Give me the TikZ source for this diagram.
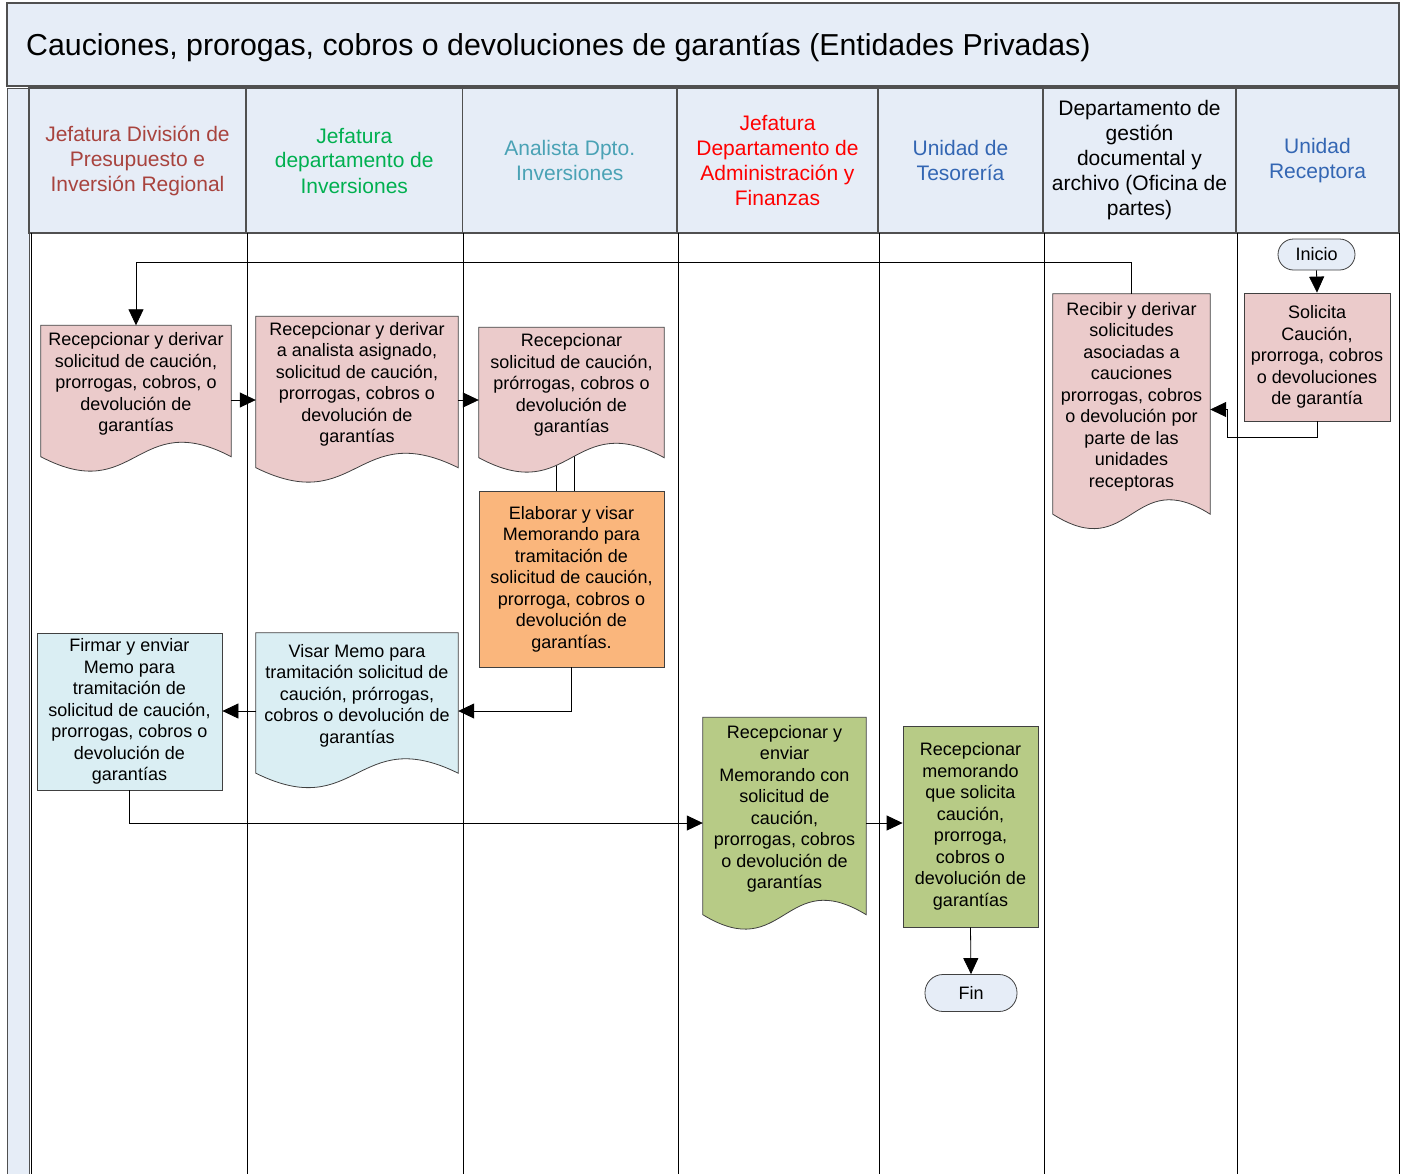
\documentclass[tikz,border=0pt]{standalone}
\usepackage{fontspec}
\setmainfont{Liberation Sans}
\usetikzlibrary{arrows.meta,calc,backgrounds}

\definecolor{hdrfill}{HTML}{E6EDF7}
\definecolor{hdrline}{HTML}{505050}
\definecolor{shapeline}{HTML}{404040}
\definecolor{pinkfill}{HTML}{EBCBCB}
\definecolor{orangefill}{HTML}{FAB67C}
\definecolor{cyanfill}{HTML}{DAEEF3}
\definecolor{greenfill}{HTML}{B7CB86}
\definecolor{laneA}{HTML}{A8433E}
\definecolor{laneB}{HTML}{00B050}
\definecolor{laneC}{HTML}{4AA2B5}
\definecolor{laneD}{HTML}{FF0000}
\definecolor{laneE}{HTML}{3366B3}

% document shape drawn around a text node: #1 node, #2 drop of the side edges, #3 fill
\newcommand{\docshape}[3]{%
  \path[draw=shapeline,line width=0.8pt,fill=#3]
    (#1.north west) -- (#1.north east) -- ($(#1.south east)+(0,#2)$)
    .. controls ($(#1.south)+(0,#2-50)$) and ($(#1.south)+(0,#2+50)$) ..
    ($(#1.south west)+(0,#2)$) -- cycle;}

\begin{document}
\begin{tikzpicture}[x=1pt,y=-1pt,
  lane/.style={draw=black,line width=0.7pt},
  hdr/.style={draw=hdrline,line width=1.4pt,fill=hdrfill,align=center,
    font=\fontsize{21}{25}\selectfont,inner sep=0pt,minimum height=145pt},
  txt/.style={align=center,font=\fontsize{18}{21.5}\selectfont,inner sep=0pt},
  boxed/.style={txt,draw=shapeline,line width=0.8pt},
  term/.style={txt,draw=shapeline,line width=0.8pt,fill=hdrfill},
  arr/.style={draw=black,line width=0.8pt,-{Triangle[length=16pt,width=15pt]}},
  link/.style={draw=black,line width=0.8pt}]
\useasboundingbox (0,0) rectangle (1405,1173);

% title band
\node[draw=hdrline,line width=1.2pt,fill=hdrfill,minimum width=1392pt,
  minimum height=83pt,inner sep=0pt] (tbox) at (703,44.5) {};
\node[anchor=west,inner sep=0pt,font=\fontsize{30.3}{36}\selectfont] (title) at (26,47.5)
  {Cauciones, prorogas, cobros o devoluciones de garantías (Entidades Privadas)};

% pool label strip
\node[draw=hdrline,line width=1.2pt,fill=hdrfill,minimum width=22pt,
  minimum height=1100pt,inner sep=0pt,anchor=north west] (strip) at (7,88) {};

% lane headers
\node[hdr,text=laneA,minimum width=217pt] (h1) at (137.5,160.5)
  {Jefatura División de\\Presupuesto e\\Inversión Regional};
\node[hdr,text=laneB,minimum width=216.5pt] (h2) at (354.25,160.5)
  {Jefatura\\departamento de\\Inversiones};
\node[hdr,text=laneC,minimum width=214.5pt] (h3) at (569.75,160.5)
  {Analista Dpto.\\Inversiones};
\node[hdr,text=laneD,minimum width=201pt] (h4) at (777.5,160.5)
  {Jefatura\\Departamento de\\Administración y\\Finanzas};
\node[hdr,text=laneE,minimum width=165pt] (h5) at (960.5,160.5)
  {Unidad de\\Tesorería};
\node[hdr,text=black,minimum width=193pt] (h6) at (1139.5,160.5)
  {Departamento de\\gestión\\documental y\\archivo (Oficina de\\partes)};
\node[hdr,text=laneE,minimum width=163pt] (h7) at (1317.5,160.5)
  {Unidad\\Receptora};

% lane separators
\foreach \lx in {31,247,463.5,678.5,879,1044,1237,1399}
  \draw[lane] (\lx,233) -- (\lx,1180);

% process steps
\node[term,minimum width=77pt,minimum height=31pt,rounded corners=15.5pt] (ini) at (1316.5,254.5) {Inicio};
\node[boxed,fill=pinkfill,minimum width=146pt,minimum height=128pt] (sol) at (1317,357)
  {Solicita\\Caución,\\prorroga, cobros\\o devoluciones\\de garantía};
\node[txt,minimum width=157pt,minimum height=205pt] (rec) at (1131.5,396.5)
  {Recibir y derivar\\solicitudes\\asociadas a\\cauciones\\prorrogas, cobros\\o devolución por\\parte de las\\unidades\\receptoras};
\node[txt,minimum width=190pt,minimum height=117pt] (d1) at (136,384)
  {Recepcionar y derivar\\solicitud de caución,\\prorrogas, cobros, o\\devolución de\\garantías};
\node[txt,minimum width=202pt,minimum height=136pt] (d2) at (357,384.5)
  {Recepcionar y derivar\\a analista asignado,\\solicitud de caución,\\prorrogas, cobros o\\devolución de\\garantías};
\node[txt,minimum width=185pt,minimum height=115pt] (d3) at (571.5,385)
  {Recepcionar\\solicitud de caución,\\prórrogas, cobros o\\devolución de\\garantías};
\node[boxed,fill=orangefill,minimum width=185pt,minimum height=176pt] (elab) at (571.5,579)
  {Elaborar y visar\\Memorando para\\tramitación de\\solicitud de caución,\\prorroga, cobros o\\devolución de\\garantías.};
\node[boxed,fill=cyanfill,minimum width=185pt,minimum height=157pt] (fir) at (129.5,711.5)
  {Firmar y enviar\\Memo para\\tramitación de\\solicitud de caución,\\prorrogas, cobros o\\devolución de\\garantías};
\node[txt,minimum width=202pt,minimum height=125pt] (vis) at (357,695.5)
  {Visar Memo para\\tramitación solicitud de\\caución, prórrogas,\\cobros o devolución de\\garantías};
\node[txt,minimum width=163pt,minimum height=183pt] (grd) at (784.5,809)
  {Recepcionar y\\enviar\\Memorando con\\solicitud de\\caución,\\prorrogas, cobros\\o devolución de\\garantías};
\node[boxed,fill=greenfill,minimum width=135pt,minimum height=201pt] (grb) at (970.5,826.5)
  {Recepcionar\\memorando\\que solicita\\caución,\\prorroga,\\cobros o\\devolución de\\garantías};
\node[term,minimum width=92pt,minimum height=37pt,rounded corners=18pt] (fin) at (971,993) {Fin};

% document outlines behind their texts
\begin{scope}[on background layer]
  \draw[link] ($(elab.north)+(-15,0)$) -- ($(d3.south)+(-15,0)$);
  \draw[link] ($(elab.north)+(2.5,0)$) -- ($(d3.south)+(2.5,0)$);
  \docshape{rec}{15}{pinkfill}
  \docshape{d1}{14}{pinkfill}
  \docshape{d2}{15}{pinkfill}
  \docshape{d3}{15}{pinkfill}
  \docshape{vis}{15}{cyanfill}
  \docshape{grd}{14}{greenfill}
\end{scope}

% connectors
\draw[arr] (ini.south) -- (sol.north);
\coordinate (p2) at ($(sol.south)+(0,16)$);
\coordinate (p3) at ($(rec.east)+(17,13)$);
\draw[arr] (sol.south) -- (p2) -| (p3) -- (p3 -| rec.east);
\coordinate (p1) at ($(rec.north)+(0,-31)$);
\draw[arr] (rec.north) -- (p1) -| (d1.north);
\coordinate (a1) at ($(d1.east)+(0,16)$);
\draw[arr] (a1) -- (a1 -| d2.west);
\coordinate (a2) at ($(d2.east)+(0,15.5)$);
\draw[arr] (a2) -- (a2 -| d3.west);
\coordinate (a3) at ($(vis.east)+(0,15.5)$);
\draw[arr] (elab.south) |- (a3);
\coordinate (a4) at ($(vis.west)+(0,15.5)$);
\draw[arr] (a4) -- (a4 -| fir.east);
\coordinate (a5) at ($(grd.west)+(0,14)$);
\draw[arr] (fir.south) |- (a5);
\coordinate (a6) at ($(grd.east)+(0,14)$);
\draw[arr] (a6) -- (a6 -| grb.west);
\draw[arr] (grb.south) -- (fin.north);
\end{tikzpicture}
\end{document}
